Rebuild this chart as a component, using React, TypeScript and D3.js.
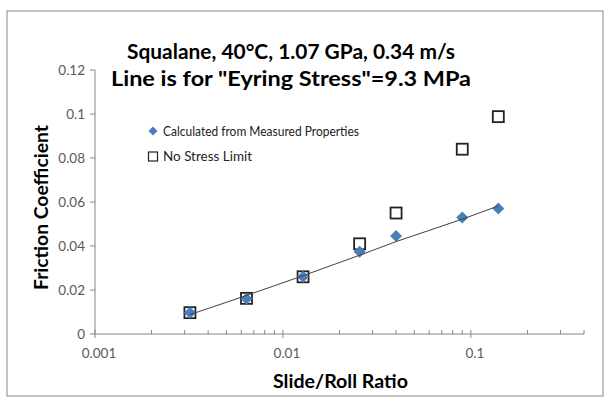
import React from "react";
import * as d3 from "d3";

const slideRoll = [0.0032, 0.0064, 0.0128, 0.0256, 0.04, 0.09, 0.14];
const calculated = [0.0097, 0.016, 0.026, 0.0374, 0.0445, 0.053, 0.057];
const noStressLimit = [0.0097, 0.0162, 0.026, 0.041, 0.055, 0.084, 0.0988];
const eyringX = [0.0032, 0.0064, 0.0128, 0.0256, 0.04, 0.09, 0.14];
const eyringY = [0.0088, 0.0175, 0.0265, 0.0358, 0.042, 0.0522, 0.0582];
const yTicks = [0, 0.02, 0.04, 0.06, 0.08, 0.1, 0.12];
const xTicks = [0.001, 0.01, 0.1];
const titleLines = ["Squalane, 40°C, 1.07 GPa, 0.34 m/s", "Line is for \"Eyring Stress\"=9.3 MPa"];
const legendLabels = ["Calculated from Measured Properties", "No Stress Limit"];

const W = 606;
const H = 398;
const FONT = "Lato, 'Open Sans', sans-serif";

function diamondPath(r: number) {
  return `M0,${-r}L${r},0L0,${r}L${-r},0Z`;
}

export default function App() {
  const x = d3.scaleLog().domain([0.001, 0.4]).range([95, 584]);
  const y = d3.scaleLinear().domain([0, 0.12]).range([334, 70]);
  const minor: number[] = [];
  for (const dec of [0.001, 0.01, 0.1]) {
    for (let k = 2; k <= 9; k++) {
      const v = dec * k;
      if (v <= 0.4 + 1e-9) minor.push(v);
    }
  }
  const line = d3
    .line<number>()
    .x((_, i) => x(eyringX[i]))
    .y((d) => y(d));
  const axisColor = "#868686";
  const blue = "#4A7EBB";
  const titleLens = [328, 360];
  return (
    <svg width={W} height={H} style={{ position: "absolute", left: 0, top: 0 }}>
      <rect x={7} y={11} width={596} height={385} fill="white" stroke="#888" strokeWidth={1} />
      {titleLines.map((t, i) => (
        <text
          key={i}
          x={291 - titleLens[i] / 2}
          y={59 + i * 27}
          textLength={titleLens[i]}
          lengthAdjust="spacingAndGlyphs"
          fontFamily={FONT}
          fontWeight="bold"
          fontSize={21}
          fill="#000"
        >
          {t}
        </text>
      ))}
      {/* y axis */}
      <line x1={95} x2={95} y1={y(0.12)} y2={y(0)} stroke={axisColor} />
      {yTicks.map((t) => (
        <g key={t}>
          <line x1={90} x2={95} y1={y(t)} y2={y(t)} stroke={axisColor} />
          <text x={85} y={y(t) + 4.5} textAnchor="end" fontFamily={FONT} fontSize={13.5} fill="#595959">
            {String(t)}
          </text>
        </g>
      ))}
      {/* x axis */}
      <line x1={x(0.001)} x2={x(0.4)} y1={y(0)} y2={y(0)} stroke={axisColor} />
      {minor.map((t) => (
        <line key={t} x1={x(t)} x2={x(t)} y1={y(0) - 4} y2={y(0)} stroke={axisColor} />
      ))}
      {xTicks.map((t) => (
        <g key={t}>
          <line x1={x(t)} x2={x(t)} y1={y(0) - 4} y2={y(0) + 4} stroke={axisColor} />
          <text x={x(t) + 4} y={358} textAnchor="middle" fontFamily={FONT} fontSize={13.5} fill="#595959">
            {String(t)}
          </text>
        </g>
      ))}
      <text x={273} y={388} textLength={135} lengthAdjust="spacingAndGlyphs" fontFamily={FONT} fontWeight="bold" fontSize={18} fill="#000">
        Slide/Roll Ratio
      </text>
      <text
        transform={`translate(48,290) rotate(-90)`}
        textLength={165}
        lengthAdjust="spacingAndGlyphs"
        fontFamily={FONT}
        fontWeight="bold"
        fontSize={18}
        fill="#000"
      >
        Friction Coefficient
      </text>
      {/* squares */}
      {slideRoll.map((v, i) => (
        <rect key={"s" + i} x={x(v) - 5.5} y={y(noStressLimit[i]) - 5.5} width={11} height={11} fill="white" stroke="#222" strokeWidth={1.8} />
      ))}
      {/* diamonds */}
      {slideRoll.map((v, i) => (
        <path key={"d" + i} d={diamondPath(6)} transform={`translate(${x(v)},${y(calculated[i])})`} fill={blue} />
      ))}
      <path d={line(eyringY) || ""} fill="none" stroke="#404040" strokeWidth={1} />
      {/* legend */}
      <path d={diamondPath(4.5)} transform="translate(153,131)" fill={blue} />
      <text x={163} y={135.5} textLength={196} lengthAdjust="spacingAndGlyphs" fontFamily={FONT} fontSize={13.5} fill="#222">
        {legendLabels[0]}
      </text>
      <rect x={148.5} y={152} width={9} height={9} fill="white" stroke="#222" strokeWidth={1.2} />
      <text x={163} y={161} textLength={89} lengthAdjust="spacingAndGlyphs" fontFamily={FONT} fontSize={13.5} fill="#222">
        {legendLabels[1]}
      </text>
    </svg>
  );
}
